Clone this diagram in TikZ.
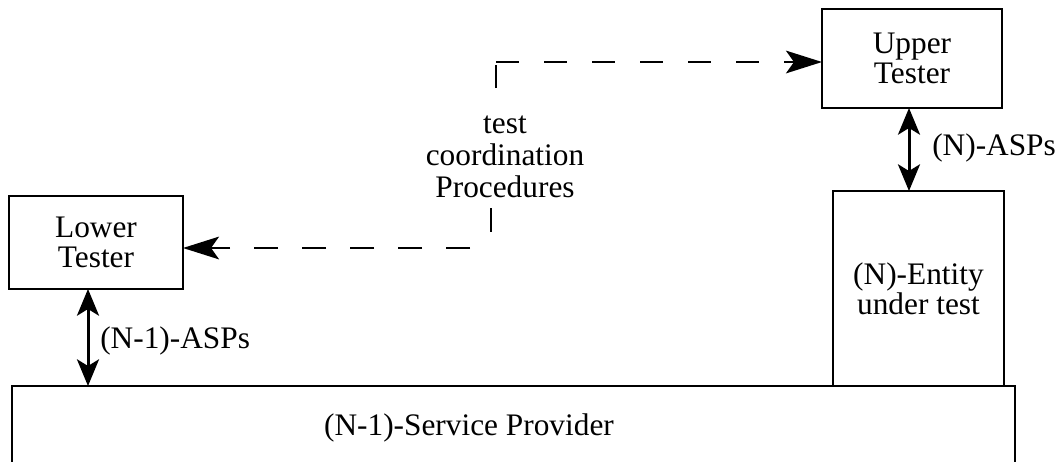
\documentclass[tikz,border=0pt]{standalone}
\usepackage{fontspec}
\setmainfont{Liberation Serif}
\usetikzlibrary{arrows.meta}
\newcommand\diagfont{\fontsize{23.5}{22.5}\selectfont}
\newcommand\notefont{\fontsize{23.5}{24}\selectfont}
\begin{document}
\begin{tikzpicture}[x=0.75pt,y=-0.75pt,
  box/.style={draw,line width=1.5pt,inner sep=0pt,outer sep=0pt,align=center,font=\diagfont},
  txt/.style={inner sep=0pt,font=\diagfont},
  dashlink/.style={line width=1.8pt},
  stub/.style={line width=1.8pt},
  dbl/.style={line width=2.25pt,{Stealth[length=20pt,width=16.5pt,inset=5pt]}-{Stealth[length=20pt,width=16.5pt,inset=5pt]}},
  ctip/.tip={Stealth[length=27pt,width=17pt,inset=6pt]}]
\useasboundingbox (0,0) rectangle (1061,461);
\clip (0,0) rectangle (1061,461);

% testers and the entity under test
\node[box,minimum width=130.5pt,minimum height=69.75pt] (LT) at (96,242.5) {Lower\\Tester};
\node[box,minimum width=135pt,minimum height=74.25pt] (UT) at (912,58.5) {Upper\\Tester};
\node[box,minimum width=128.25pt,minimum height=146.25pt] (ENT) at (918.5,288.5) {(N)-Entity\\under test};

% service provider, open at the bottom
\coordinate (spNW) at (12,386);
\coordinate (spNE) at (1015,386);
\draw[line width=1.5pt] (12,480) -- (spNW) -- (spNE) -- (1015,480);
\node[txt,anchor=base] (SP) at (469,435) {(N-1)-Service Provider};

% service primitives
\coordinate (xL) at (88,0);
\coordinate (xU) at (909,0);
\draw[dbl] (LT.south -| xL) -- (spNW -| xL);
\node[txt,anchor=base west] (aspL) at (100,348) {(N-1)-ASPs};
\draw[dbl] (UT.south -| xU) -- (ENT.north -| xU);
\node[txt,anchor=base west] (aspU) at (932,155) {(N)-ASPs};

% test coordination procedures
\node[inner sep=0pt,align=center,font=\notefont] (TC) at (505,157) {test\\coordination\\Procedures};
\coordinate (sU) at (496,88);
\coordinate (cU) at (496,62);
\draw[stub] (sU) -- ++(0,-23);
\draw[dashlink,dash pattern=on 17.25pt off 18.75pt,-{ctip}] (cU) -- (cU -| UT.west);
\coordinate (sL) at (491,208);
\coordinate (cL) at (492,248);
\draw[stub] (sL) -- ++(0,24);
\draw[dashlink,dash pattern=on 18pt off 18pt,dash phase=19.5pt,-{ctip}] (cL) -- (cL -| LT.east);
\end{tikzpicture}
\end{document}
